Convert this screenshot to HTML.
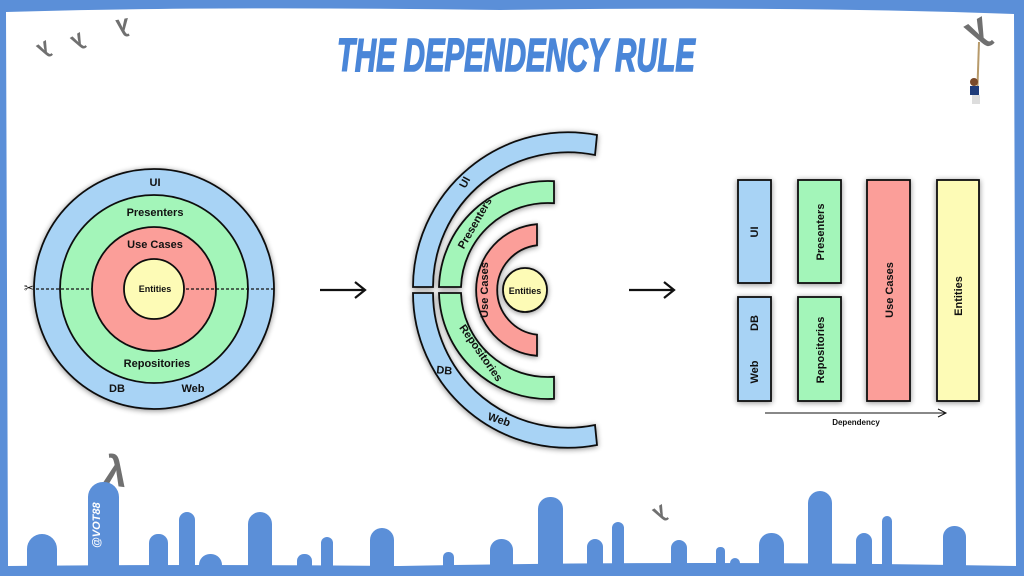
<!DOCTYPE html>
<html><head><meta charset="utf-8"><style>
html,body{margin:0;padding:0;background:#fff;}
svg{display:block;font-family:"Liberation Sans",sans-serif;}
</style></head><body>
<svg width="1024" height="576" viewBox="0 0 1024 576" xmlns="http://www.w3.org/2000/svg">
<defs>
<filter id="sh" x="-20%" y="-20%" width="140%" height="140%"><feGaussianBlur in="SourceAlpha" stdDeviation="3"/><feOffset dx="0" dy="1"/><feComponentTransfer><feFuncA type="linear" slope="0.45"/></feComponentTransfer><feMerge><feMergeNode/><feMergeNode in="SourceGraphic"/></feMerge></filter>
</defs>
<rect width="1024" height="576" fill="#fff"/>
<!-- frame -->
<path d="M0,0 H1024 V576 H0 Z M6,12 Q200,6 500,10 Q800,6 1014,14 L1016,566 Q700,560 400,566 Q200,564 8,566 Z" fill="#5b8fd8" fill-rule="evenodd"/>

<!-- title -->
<text x="337" y="71" font-family="'Liberation Sans Narrow','Liberation Sans',sans-serif" font-weight="bold" font-style="italic" font-size="46" fill="#4a86d8" stroke="#4a86d8" stroke-width="1.6" textLength="358" lengthAdjust="spacingAndGlyphs">THE DEPENDENCY RULE</text>

<!-- lambdas -->
<g fill="#707070" font-weight="bold" font-family="'Liberation Sans',sans-serif">
<text x="0" y="0" font-size="22" transform="translate(46,40) rotate(150)">λ</text>
<text x="0" y="0" font-size="22" transform="translate(80,32) rotate(150)">λ</text>
<text x="0" y="0" font-size="24" transform="translate(128,18) rotate(170)">λ</text>
<text x="0" y="0" font-size="40" transform="translate(982,16) rotate(150)">λ</text>
<text x="0" y="0" font-size="42" transform="translate(102,484) rotate(8)">λ</text>
<text x="0" y="0" font-size="22" transform="translate(662,504) rotate(150)">λ</text>
</g>
<!-- rope + person -->
<line x1="979" y1="42" x2="977" y2="100" stroke="#b79a6a" stroke-width="2"/>
<circle cx="974" cy="82" r="4" fill="#7a4a2a"/>
<rect x="970" y="86" width="9" height="9" fill="#1f3c7a"/>
<rect x="972" y="95" width="8" height="9" fill="#ddd"/>

<!-- left concentric -->
<g filter="url(#sh)" stroke="#111" stroke-width="1.8">
<circle cx="154" cy="289" r="120" fill="#a8d3f5"/>
<circle cx="154" cy="289" r="94" fill="#a3f5b9"/>
<circle cx="154" cy="289" r="62" fill="#fb9e99"/>
<circle cx="154" cy="289" r="30" fill="#fdfbb6"/>
</g>
<line x1="36" y1="289" x2="92" y2="289" stroke="#111" stroke-width="1.3" stroke-dasharray="3,2"/>
<line x1="186" y1="289" x2="274" y2="289" stroke="#111" stroke-width="1.3" stroke-dasharray="3,2"/>
<text x="24" y="292" font-size="12" fill="#111">✂</text>
<g font-weight="bold" fill="#111" text-anchor="middle">
<text x="155" y="186" font-size="11">UI</text>
<text x="155" y="216" font-size="11">Presenters</text>
<text x="155" y="248" font-size="11">Use Cases</text>
<text x="155" y="292" font-size="9">Entities</text>
<text x="157" y="367" font-size="11">Repositories</text>
<text x="117" y="392" font-size="11">DB</text>
<text x="193" y="392" font-size="11">Web</text>
</g>

<!-- arrows -->
<g stroke="#111" stroke-width="2.2" fill="none">
<path d="M320,290 H364 M355,282 L365,290 L355,298"/>
<path d="M629,290 H673 M664,282 L674,290 L664,298"/>
</g>

<!-- middle split -->
<g filter="url(#sh)" stroke="#111" stroke-width="1.8">
<path d="M597,135 A155,155 0 0 0 413,287 L433,287 A135,135 0 0 1 595,155 Z" fill="#a8d3f5"/>
<path d="M597,445 A155,155 0 0 1 413,293 L433,293 A135,135 0 0 0 595,425 Z" fill="#a8d3f5"/>
<path d="M554,181.2 A109,109 0 0 0 439,287 L461,287 A87,87 0 0 1 554,203.2 Z" fill="#a3f5b9"/>
<path d="M554,398.8 A109,109 0 0 1 439,293 L461,293 A87,87 0 0 0 554,376.8 Z" fill="#a3f5b9"/>
<path d="M537,224.2 A66,66 0 0 0 537,355.8 L537,334.7 A45,45 0 0 1 537,245.3 Z" fill="#fb9e99"/>
<circle cx="525" cy="290" r="22" fill="#fdfbb6"/>
</g>
<g font-weight="bold" fill="#111" text-anchor="middle">
<text font-size="11" transform="translate(468,184) rotate(-62)">UI</text>
<text font-size="11" transform="translate(478,225) rotate(-60)">Presenters</text>
<text font-size="11" transform="translate(488,290) rotate(-90)">Use Cases</text>
<text x="525" y="294" font-size="9">Entities</text>
<text font-size="11" transform="translate(478,355) rotate(55)">Repositories</text>
<text font-size="11" transform="translate(444,374) rotate(5)">DB</text>
<text font-size="11" transform="translate(498,423) rotate(18)">Web</text>
</g>

<!-- right bars -->
<g filter="url(#sh)" stroke="#111" stroke-width="1.8">
<rect x="738" y="180" width="33" height="103" fill="#a8d3f5"/>
<rect x="738" y="297" width="33" height="104" fill="#a8d3f5"/>
<rect x="798" y="180" width="43" height="103" fill="#a3f5b9"/>
<rect x="798" y="297" width="43" height="104" fill="#a3f5b9"/>
<rect x="867" y="180" width="43" height="221" fill="#fb9e99"/>
<rect x="937" y="180" width="42" height="221" fill="#fdfbb6"/>
</g>
<g font-weight="bold" fill="#111" text-anchor="middle" font-size="11">
<text transform="translate(758,232) rotate(-90)">UI</text>
<text transform="translate(758,323) rotate(-90)">DB</text>
<text transform="translate(758,372) rotate(-90)">Web</text>
<text transform="translate(824,232) rotate(-90)">Presenters</text>
<text transform="translate(824,350) rotate(-90)">Repositories</text>
<text transform="translate(893,290) rotate(-90)">Use Cases</text>
<text transform="translate(962,296) rotate(-90)">Entities</text>
</g>
<path d="M765,413 H945 M938,409 L946,413 L938,417" stroke="#111" stroke-width="1" fill="none"/>
<text x="856" y="425" font-size="8" font-weight="bold" fill="#111" text-anchor="middle">Dependency</text>

<!-- skyline -->
<g fill="#5b8fd8">
<rect x="27" y="534" width="30" height="42" rx="15"/><rect x="27" y="550" width="30" height="26"/>
<rect x="88" y="482" width="31" height="94" rx="15"/><rect x="88" y="500" width="31" height="76"/>
<rect x="149" y="534" width="19" height="42" rx="9"/><rect x="149" y="545" width="19" height="31"/>
<rect x="179" y="512" width="16" height="64" rx="8"/><rect x="179" y="522" width="16" height="54"/>
<rect x="199" y="554" width="23" height="22" rx="11"/><rect x="199" y="566" width="23" height="10"/>
<rect x="248" y="512" width="24" height="64" rx="12"/><rect x="248" y="525" width="24" height="51"/>
<rect x="297" y="554" width="15" height="22" rx="7"/><rect x="297" y="562" width="15" height="14"/>
<rect x="321" y="537" width="12" height="39" rx="6"/><rect x="321" y="545" width="12" height="31"/>
<rect x="370" y="528" width="24" height="48" rx="12"/><rect x="370" y="540" width="24" height="36"/>
<rect x="443" y="552" width="11" height="24" rx="5"/><rect x="443" y="560" width="11" height="16"/>
<rect x="490" y="539" width="23" height="37" rx="11"/><rect x="490" y="550" width="23" height="26"/>
<rect x="538" y="497" width="25" height="79" rx="12"/><rect x="538" y="510" width="25" height="66"/>
<rect x="587" y="539" width="16" height="37" rx="8"/><rect x="587" y="548" width="16" height="28"/>
<rect x="612" y="522" width="12" height="54" rx="6"/><rect x="612" y="530" width="12" height="46"/>
<rect x="671" y="540" width="16" height="36" rx="8"/><rect x="671" y="548" width="16" height="28"/>
<rect x="716" y="547" width="9" height="29" rx="4"/><rect x="716" y="552" width="9" height="24"/>
<rect x="730" y="558" width="10" height="18" rx="5"/>
<rect x="759" y="533" width="25" height="43" rx="12"/><rect x="759" y="546" width="25" height="30"/>
<rect x="808" y="491" width="24" height="85" rx="12"/><rect x="808" y="503" width="24" height="73"/>
<rect x="856" y="533" width="16" height="43" rx="8"/><rect x="856" y="541" width="16" height="35"/>
<rect x="882" y="516" width="10" height="60" rx="5"/><rect x="882" y="522" width="10" height="54"/>
<rect x="943" y="526" width="23" height="50" rx="11"/><rect x="943" y="538" width="23" height="38"/>
</g>
<text transform="translate(100,548) rotate(-90)" font-size="11" font-weight="bold" font-style="italic" fill="#fff">@VOT88</text>
</svg>
</body></html>
